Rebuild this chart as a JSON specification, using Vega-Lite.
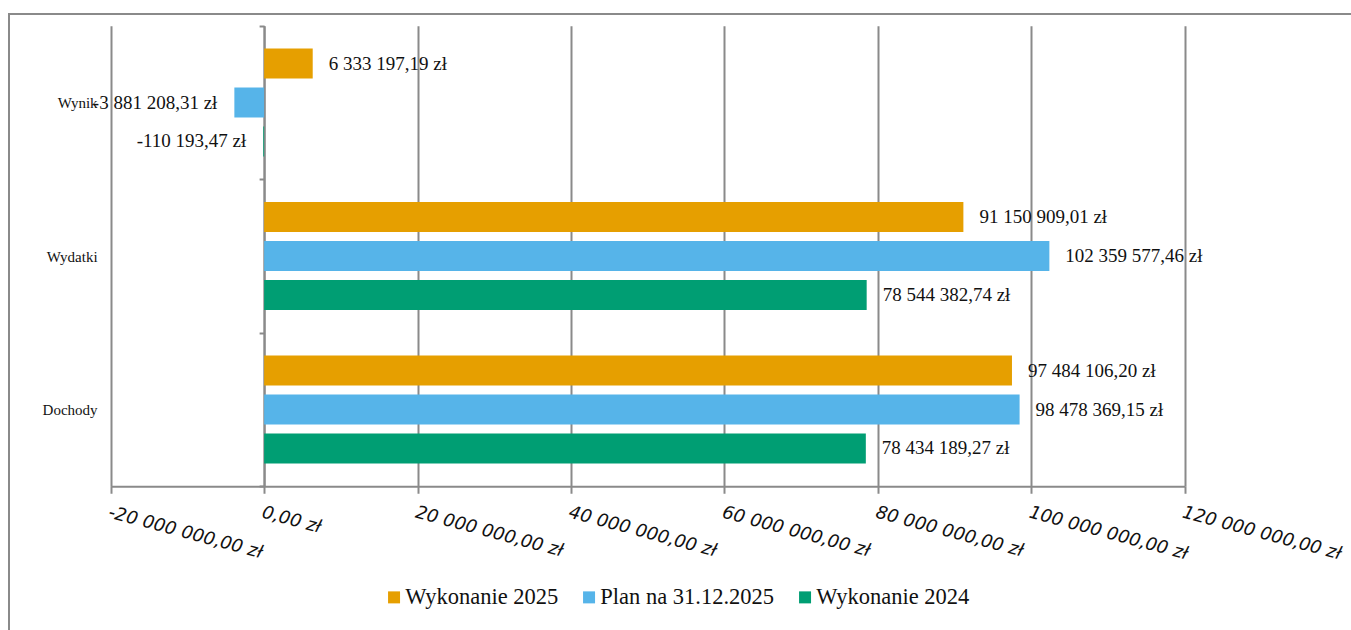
{
  "$schema": "https://vega.github.io/schema/vega-lite/v6.json",
  "width": 1344,
  "height": 618,
  "autosize": {"type": "none"},
  "padding": {"left": 9, "top": 14, "right": 0, "bottom": 0},
  "background": "white",
  "config": {
    "locale": {
      "number": {"decimal": ",", "thousands": " ", "grouping": [3], "currency": ["", " zł"], "minus": "-"}
    },
    "view": {"stroke": "#8a8a8a", "strokeWidth": 2}
  },
  "data": {
    "values": [
      {"category": "Wynik", "series": "Wykonanie 2025", "value": 6333197.19},
      {"category": "Wynik", "series": "Plan na 31.12.2025", "value": -3881208.31},
      {"category": "Wynik", "series": "Wykonanie 2024", "value": -110193.47},
      {"category": "Wydatki", "series": "Wykonanie 2025", "value": 91150909.01},
      {"category": "Wydatki", "series": "Plan na 31.12.2025", "value": 102359577.46},
      {"category": "Wydatki", "series": "Wykonanie 2024", "value": 78544382.74},
      {"category": "Dochody", "series": "Wykonanie 2025", "value": 97484106.20},
      {"category": "Dochody", "series": "Plan na 31.12.2025", "value": 98478369.15},
      {"category": "Dochody", "series": "Wykonanie 2024", "value": 78434189.27}
    ]
  },
  "resolve": {"axis": {"x": "independent"}},
  "encoding": {
    "y": {
      "field": "category",
      "type": "nominal",
      "scale": {"domain": ["Wynik", "Wydatki", "Dochody"], "range": [11.75, 472.25], "paddingInner": 0, "paddingOuter": 0},
      "axis": {
        "title": null,
        "orient": "left",
        "offset": -255.1,
        "domainColor": "#8a8a8a",
        "domainWidth": 2,
        "tickColor": "#8a8a8a",
        "tickWidth": 2,
        "tickSize": 5,
        "tickBand": "extent",
        "labelFont": "Liberation Serif",
        "labelFontSize": 15,
        "labelColor": "#111111",
        "labelPadding": 162,
        "labelAlign": "right",
        "grid": false
      }
    },
    "yOffset": {
      "field": "series",
      "type": "nominal",
      "scale": {"domain": ["Wykonanie 2025", "Plan na 31.12.2025", "Wykonanie 2024"], "paddingInner": 0.2308, "paddingOuter": 0.5836}
    }
  },
  "layer": [
    {
      "mark": {"type": "bar"},
      "encoding": {
        "x": {
          "field": "value",
          "type": "quantitative",
          "scale": {"domain": [-20000000, 120000000], "range": [101.7, 1175.7], "nice": false, "zero": false},
          "axis": {
            "title": null,
            "orient": "bottom",
            "offset": -145.75,
            "values": [-20000000, 0, 20000000, 40000000, 60000000, 80000000, 100000000, 120000000],
            "format": "$,.2f",
            "labelAngle": 15,
            "labelAlign": "left",
            "labelBaseline": "top",
            "labelFont": "DejaVu Sans",
            "labelFontStyle": "italic",
            "labelFontSize": 18,
            "labelColor": "#111111",
            "labelPadding": 10,
            "labelFlush": false,
            "labelOverlap": false,
            "grid": false,
            "domainColor": "#8a8a8a",
            "domainWidth": 2,
            "tickColor": "#8a8a8a",
            "tickWidth": 2,
            "tickSize": 7
          }
        },
        "color": {
          "field": "series",
          "type": "nominal",
          "scale": {"domain": ["Wykonanie 2025", "Plan na 31.12.2025", "Wykonanie 2024"], "range": ["#E69F00", "#56B4E9", "#009E73"]},
          "legend": {
            "title": null,
            "orient": "none",
            "direction": "horizontal",
            "legendX": 373.8,
            "legendY": 572,
            "symbolType": "square",
            "symbolSize": 144,
            "symbolStrokeWidth": 0,
            "labelFont": "Liberation Serif",
            "labelFontSize": 22.5,
            "labelColor": "#111111",
            "labelOffset": 0,
            "columnPadding": 19,
            "labelLimit": 400
          }
        }
      }
    },
    {
      "transform": [{"filter": "datum.value >= 0"}],
      "mark": {"type": "text", "align": "left", "baseline": "middle", "dx": 16, "font": "Liberation Serif", "fontSize": 19, "color": "#111111"},
      "encoding": {
        "x": {
          "field": "value",
          "type": "quantitative",
          "axis": {
            "title": null,
            "orient": "top",
            "values": [-20000000, 0, 20000000, 40000000, 60000000, 80000000, 100000000, 120000000],
            "grid": true,
            "gridColor": "#8a8a8a",
            "gridWidth": 2,
            "labels": false,
            "ticks": false,
            "domain": false
          }
        },
        "text": {"field": "value", "type": "quantitative", "format": "$,.2f"}
      }
    },
    {
      "transform": [{"filter": "datum.value < 0"}],
      "mark": {"type": "text", "align": "right", "baseline": "middle", "dx": -17, "font": "Liberation Serif", "fontSize": 19, "color": "#111111"},
      "encoding": {
        "x": {"field": "value", "type": "quantitative", "axis": null},
        "text": {"field": "value", "type": "quantitative", "format": "$,.2f"}
      }
    }
  ]
}
